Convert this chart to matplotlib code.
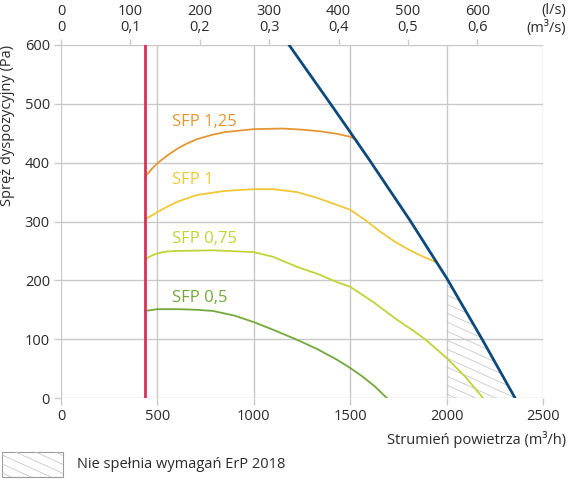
import matplotlib
matplotlib.use("Agg")
import matplotlib.pyplot as plt
import numpy as np
from matplotlib.collections import LineCollection
from matplotlib.patches import Rectangle
from matplotlib.transforms import IdentityTransform

plt.rcParams["font.family"] = ["Open Sans", "DejaVu Sans"]

# minimalny przepływ (czerwona linia), m3/h
min_flow = 436

# charakterystyka maksymalna wentylatora
max_q = [1183, 1398, 1500, 1603, 1810, 2000, 2184, 2355]
max_p = [600, 500, 452, 403, 302, 204, 100, 0]

# krzywe SFP
sfp_names = ["SFP 1,25", "SFP 1", "SFP 0,75", "SFP 0,5"]
sfp125_q = [436, 470, 500, 550, 600, 650, 705, 780, 850, 1000, 1150, 1255, 1350, 1432, 1500, 1535]
sfp125_p = [376, 389, 399, 412, 423, 432, 440, 447, 452, 457, 458, 456, 453, 449, 444, 438]
sfp1_q = [436, 470, 500, 550, 600, 650, 705, 850, 1000, 1100, 1224, 1330, 1432, 1500, 1580, 1655, 1730, 1810, 1880, 1945]
sfp1_p = [304, 310, 316, 325, 333, 339, 345, 352, 355, 355, 350, 340, 328, 320, 302, 283, 266, 251, 240, 231]
sfp075_q = [436, 470, 500, 550, 600, 788, 1000, 1100, 1224, 1330, 1432, 1500, 1620, 1743, 1820, 1888, 2000, 2100, 2189]
sfp075_p = [236, 242, 246, 249, 250, 251, 248, 240, 223, 211, 197, 189, 163, 133, 116, 100, 68, 35, 0]
sfp05_q = [436, 500, 600, 700, 788, 900, 1000, 1100, 1224, 1330, 1432, 1500, 1566, 1630, 1690]
sfp05_p = [148, 151, 151, 150, 148, 140, 129, 116, 99, 83, 65, 51, 36, 19, 0]
sfp_label_pos = [(576, 469), (576, 370), (576, 270), (576, 170)]

erp_limit = 2000  # od tej wartości strefa zakreskowana

x_ticks = [0, 500, 1000, 1500, 2000, 2500]
y_ticks = [0, 100, 200, 300, 400, 500, 600]
ls_ticks = [0, 100, 200, 300, 400, 500, 600]
ls_labels = ["0\n0", "100\n0,1", "200\n0,2", "300\n0,3", "400\n0,4", "500\n0,5", "600\n0,6"]

grid_c = "#c9c9c9"
text_c = "#2b2b2b"
colors = ["#e59634", "#f0c737", "#c0d437", "#72a83c"]

fig = plt.figure(figsize=(5.68, 4.99), dpi=100)
ax = fig.add_axes([61 / 568, 1 - 398 / 499, 482 / 568, 353 / 499])

ax.set_xlim(0, 2500)
ax.set_ylim(0, 600)
ax.set_xticks(x_ticks)
ax.set_yticks(y_ticks)
ax.grid(True, color=grid_c, linewidth=1.0)
ax.set_axisbelow(True)
for s in ax.spines.values():
    s.set_visible(False)
ax.tick_params(axis="both", colors=grid_c, labelcolor=text_c, labelsize=10.5,
               length=5, width=1, pad=3)

# strefa niespełniająca ErP
qh = [q for q in max_q if q >= erp_limit]
ph = [p for q, p in zip(max_q, max_p) if q >= erp_limit]
poly = ax.fill_between(qh, ph, 0, facecolor="none", edgecolor="none")


def shallow_hatch(parent, clip_path, clip_trans, spacing=9, slope=0.45):
    segs = []
    for c in np.arange(0, 568 * slope + 520, spacing):
        segs.append([(0, c), (568, c - 568 * slope)])
    lc = LineCollection(segs, colors="#c4c4c4", linewidths=0.55, transform=IdentityTransform())
    lc.set_clip_path(clip_path, clip_trans)
    if parent is fig:
        fig.add_artist(lc)
    else:
        parent.add_collection(lc, autolim=False)


shallow_hatch(ax, poly.get_paths()[0], ax.transData)

for q_, p_, c, name, pos in zip([sfp125_q, sfp1_q, sfp075_q, sfp05_q],
                                [sfp125_p, sfp1_p, sfp075_p, sfp05_p],
                                colors, sfp_names, sfp_label_pos):
    ax.plot(q_, p_, color=c, linewidth=1.3, solid_joinstyle="round")
    ax.text(pos[0], pos[1], name, color=c, fontsize=12, va="center", ha="left")

ax.plot(max_q, max_p, color="#0d4a7c", linewidth=2.0, solid_joinstyle="round")
ax.plot([min_flow, min_flow], [0, 600], color="#d9305a", linewidth=2.0)

# górna oś l/s
sec = ax.secondary_xaxis("top", functions=(lambda q: q / 3.6, lambda l: l * 3.6))
sec.set_xticks(ls_ticks)
sec.set_xticklabels(ls_labels, linespacing=1.15)
sec.tick_params(colors=grid_c, labelcolor=text_c, labelsize=10.5, length=4, width=1, pad=3)
for s in sec.spines.values():
    s.set_visible(False)
fig.text(566 / 568, 1 - 36 / 499, "(l/s)\n(m³/s)", ha="right", va="bottom",
         multialignment="right", fontsize=10.5, color=text_c, linespacing=1.15)

ax.text(-0.112, 1.0, "Spręż dyspozycyjny (Pa)", rotation=90, transform=ax.transAxes,
        ha="center", va="top", fontsize=10.5, color=text_c)
fig.text(566 / 568, 1 - 440 / 499, "Strumień powietrza (m³/h)", ha="right", va="center",
         fontsize=10.5, color=text_c)

# legenda
box = Rectangle((2 / 568, 1 - 477 / 499), 61 / 568, 25 / 499, transform=fig.transFigure,
                facecolor="none", edgecolor="#9a9a9a", linewidth=0.8)
fig.add_artist(box)
shallow_hatch(fig, box, None)
fig.text(77 / 568, 1 - 464 / 499, "Nie spełnia wymagań ErP 2018", ha="left", va="center",
         fontsize=10.5, color=text_c)

fig.savefig("out.png", dpi=100)
